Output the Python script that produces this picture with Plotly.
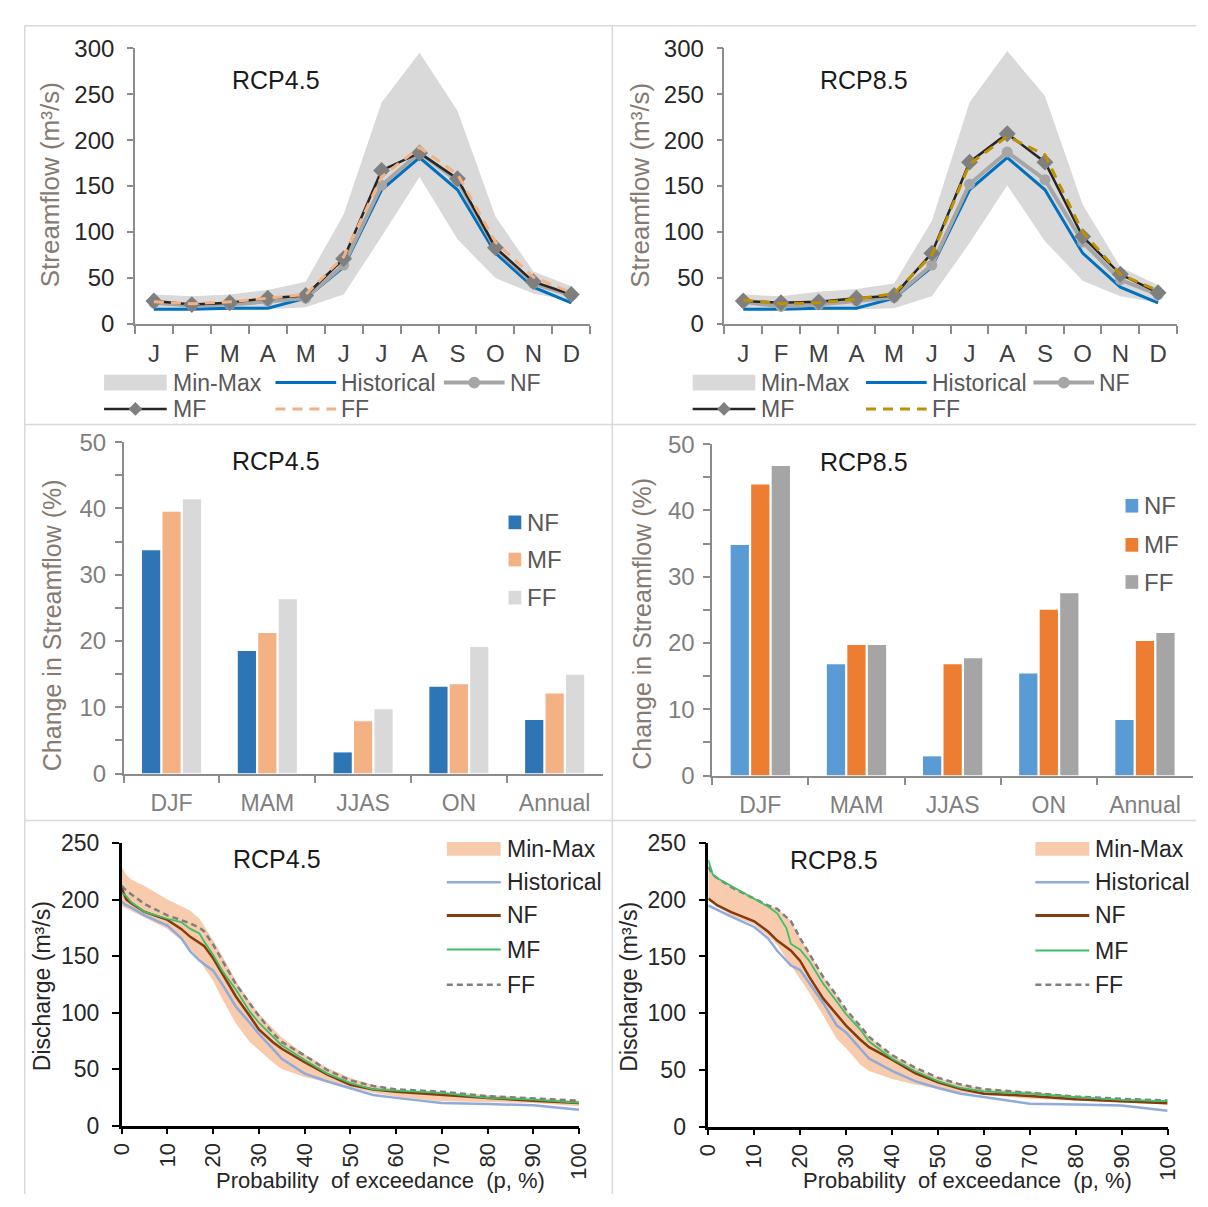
import plotly.graph_objects as go

W, H = 1208, 1207
FONT = "Liberation Sans, Arial, Helvetica, sans-serif"


def PX(x):
    return x / W


def PY(y):
    return 1 - y / H


# ---------------- data ----------------
months = ["J", "F", "M", "A", "M", "J", "J", "A", "S", "O", "N", "D"]
month_idx = list(range(len(months)))

# RCP4.5 monthly streamflow (m3/s)
hist_45 = [16, 16, 17, 17, 28, 62, 146, 181, 146, 77, 40, 23]
nf_45 = [23, 20, 21, 25, 28, 64, 151, 186, 156, 82, 44, 31]
mf_45 = [25, 21, 23, 28, 31, 71, 167, 186, 158, 83, 46, 32]
ff_45 = [24, 22, 24, 28, 32, 73, 160, 192, 163, 89, 51, 34]
min_45 = [15, 15, 16, 16, 18, 32, 95, 160, 92, 50, 33, 25]
max_45 = [32, 30, 32, 37, 46, 119, 241, 295, 232, 117, 57, 41]

# RCP8.5 monthly streamflow (m3/s)
hist_85 = [16, 16, 17, 17, 28, 62, 146, 181, 146, 77, 40, 23]
nf_85 = [24, 19, 21, 25, 29, 64, 152, 187, 157, 89, 48, 32]
mf_85 = [25, 23, 24, 28, 31, 77, 176, 207, 176, 95, 54, 34]
ff_85 = [26, 22, 23, 27, 33, 75, 174, 204, 184, 100, 54, 36]
min_85 = [15, 15, 15, 16, 17, 30, 88, 151, 90, 47, 30, 23]
max_85 = [32, 30, 35, 38, 44, 112, 241, 297, 248, 130, 62, 42]

# seasonal change in streamflow (%)
seasons = ["DJF", "MAM", "JJAS", "ON", "Annual"]
chg45_nf = [33.7, 18.5, 3.2, 13.1, 8.1]
chg45_mf = [39.5, 21.2, 7.9, 13.5, 12.1]
chg45_ff = [41.4, 26.3, 9.7, 19.1, 14.9]
chg85_nf = [34.8, 16.8, 2.9, 15.4, 8.4]
chg85_mf = [43.9, 19.7, 16.8, 25.0, 20.3]
chg85_ff = [46.7, 19.7, 17.7, 27.5, 21.5]

# flow duration curves (probability of exceedance %, discharge m3/s)
p_exc = [0, 1, 2, 5, 10, 13, 15, 17, 18, 20, 22, 25, 28, 30, 33, 35, 40, 45, 50, 55, 60, 70, 80, 90, 100]
fdc45_hist = [198, 195, 193, 186, 177, 166, 154, 146, 143, 137, 125, 105, 91, 81, 68, 59, 46, 39, 33, 27, 24.5, 20, 19, 18, 14]
fdc45_nf = [210, 200, 197, 189, 182, 174, 167, 162, 159, 148, 134, 114, 97, 85, 74, 68, 56, 45, 36, 32, 30, 27, 24.5, 22, 20]
fdc45_mf = [206, 203, 198, 189, 183, 180, 174, 170, 163, 151, 137, 120, 101, 91, 79, 71, 58, 46, 37.5, 32, 31, 29, 24.5, 23, 20]
fdc45_ff = [212, 208, 205, 196, 186, 182, 179, 175, 172, 160, 146, 125, 108, 97, 82, 74, 62, 49, 40, 35, 32, 30, 26, 24, 22]
fdc45_max = [229, 222, 218, 212, 200, 194, 190, 183, 177, 164, 150, 128, 110, 99, 86, 78, 63, 51, 42, 36, 32, 30, 27, 24.5, 22]
fdc45_min = [194, 192, 190, 184, 174, 164, 156, 146, 140, 128, 112, 90, 74, 67, 56, 50, 43, 38, 34, 29, 25.5, 21.5, 21, 20, 17]

fdc85_hist = [195, 193, 191, 185, 176, 166, 155, 146, 142, 138, 126, 109, 89, 83, 69, 60, 49, 40, 34, 29, 26, 20, 19.5, 18.6, 14]
fdc85_nf = [201, 198, 195, 189, 181, 172, 164, 158, 155, 146, 132, 113, 98, 89, 77, 70, 59, 47, 39, 33, 29, 27, 24, 22, 20.6]
fdc85_mf = [235, 222, 219, 212, 201, 194, 188, 175, 161, 156, 146, 126, 110, 99, 86, 75, 60, 49, 40, 34, 31, 29, 26, 23.5, 22.4]
fdc85_ff = [229, 222, 219, 211, 201, 195, 192, 185, 181, 166, 152, 132, 115, 103, 89, 79, 63, 52, 43, 37, 33, 30, 26.4, 24.4, 23]
fdc85_max = [233, 222, 219, 212, 201, 195, 192, 185, 181, 166, 152, 132, 115, 103, 89, 79, 63, 52, 43, 37, 33, 31, 27, 24.4, 23]
fdc85_min = [202, 197, 194, 186, 178, 168, 160, 148, 141, 129, 118, 98, 77, 69, 55, 49, 42, 37, 33, 30, 28, 24.4, 23, 21.5, 19.5]

fig = go.Figure()


# ---------------- monthly panels ----------------
def monthly_panel(xa, ya, hist, nf, mf, ff, mn, mx, ff_color):
    common = dict(xaxis=xa, yaxis=ya, showlegend=False, hoverinfo="skip")
    fig.add_trace(go.Scatter(x=month_idx, y=mn, mode="lines", line=dict(width=0, color="#D9D9D9"), **common))
    fig.add_trace(go.Scatter(x=month_idx, y=mx, mode="lines", line=dict(width=0, color="#D9D9D9"),
                             fill="tonexty", fillcolor="#D9D9D9", **common))
    fig.add_trace(go.Scatter(x=month_idx, y=hist, mode="lines", line=dict(color="#0070C0", width=3), **common))
    fig.add_trace(go.Scatter(x=month_idx, y=nf, mode="lines+markers", line=dict(color="#A6A6A6", width=4),
                             marker=dict(symbol="circle", size=11, color="#A6A6A6"), **common))
    fig.add_trace(go.Scatter(x=month_idx, y=mf, mode="lines+markers", line=dict(color="#262626", width=2.5),
                             marker=dict(symbol="diamond", size=13, color="#7F7F7F"), **common))
    fig.add_trace(go.Scatter(x=month_idx, y=ff, mode="lines", line=dict(color=ff_color, width=3, dash="10px,7px"),
                             **common))


monthly_panel("x", "y", hist_45, nf_45, mf_45, ff_45, min_45, max_45, "#F4B183")
monthly_panel("x2", "y2", hist_85, nf_85, mf_85, ff_85, min_85, max_85, "#BF9000")


# ---------------- bar panels ----------------
def bar_panel(xa, ya, nf, mf, ff, colors):
    for vals, c in zip([nf, mf, ff], colors):
        fig.add_trace(go.Bar(x=seasons, y=vals, marker=dict(color=c, line=dict(width=0)),
                             xaxis=xa, yaxis=ya, showlegend=False, hoverinfo="skip"))


bar_panel("x3", "y3", chg45_nf, chg45_mf, chg45_ff, ["#2E75B6", "#F4B183", "#D9D9D9"])
bar_panel("x4", "y4", chg85_nf, chg85_mf, chg85_ff, ["#5B9BD5", "#ED7D31", "#A5A5A5"])


# ---------------- flow duration panels ----------------
def fdc_panel(xa, ya, hist, nf, mf, ff, mn, mx):
    common = dict(xaxis=xa, yaxis=ya, showlegend=False, hoverinfo="skip")
    fig.add_trace(go.Scatter(x=p_exc, y=mn, mode="lines", line=dict(width=0, color="#F8CBAD"), **common))
    fig.add_trace(go.Scatter(x=p_exc, y=mx, mode="lines", line=dict(width=0, color="#F8CBAD"),
                             fill="tonexty", fillcolor="#F8CBAD", **common))
    fig.add_trace(go.Scatter(x=p_exc, y=hist, mode="lines", line=dict(color="#8FAADC", width=2.5), **common))
    fig.add_trace(go.Scatter(x=p_exc, y=ff, mode="lines", line=dict(color="#7F7F7F", width=2.5, dash="6px,4px"),
                             **common))
    fig.add_trace(go.Scatter(x=p_exc, y=nf, mode="lines", line=dict(color="#843C0C", width=2.5), **common))
    fig.add_trace(go.Scatter(x=p_exc, y=mf, mode="lines", line=dict(color="#3CBF6A", width=1.8), **common))


fdc_panel("x5", "y5", fdc45_hist, fdc45_nf, fdc45_mf, fdc45_ff, fdc45_min, fdc45_max)
fdc_panel("x6", "y6", fdc85_hist, fdc85_nf, fdc85_mf, fdc85_ff, fdc85_min, fdc85_max)

# ---------------- axes ----------------
GRAY_AX = "#8C8C8C"


def top_x(x0, x1):
    return dict(domain=[PX(x0), PX(x1)], range=[-0.5, len(months) - 0.5], tickmode="array",
                tickvals=month_idx, ticktext=months, ticks="", showgrid=False, zeroline=False,
                showline=True, linecolor=GRAY_AX, linewidth=1.5,
                tickfont=dict(family=FONT, size=24, color="#404040"), ticklabelstandoff=8,
                minor=dict(tickmode="linear", tick0=-0.5, dtick=1, ticks="outside", ticklen=8,
                           tickwidth=1.5, tickcolor=GRAY_AX, showgrid=False))


def top_y(y0, y1, anchor):
    return dict(domain=[PY(y0), PY(y1)], range=[0, 300], dtick=50, ticks="outside", ticklen=6,
                tickwidth=1.5, tickcolor=GRAY_AX, showline=True, linecolor=GRAY_AX, linewidth=1.5,
                showgrid=False, zeroline=False, anchor=anchor,
                tickfont=dict(family=FONT, size=24, color="#262626"), ticklabelstandoff=8)


def mid_x(x0, x1):
    return dict(domain=[PX(x0), PX(x1)], type="category", tickson="boundaries", ticks="outside",
                ticklen=8, tickwidth=1.5, tickcolor=GRAY_AX, showline=True, linecolor=GRAY_AX,
                linewidth=1.5, showgrid=False, zeroline=False,
                tickfont=dict(family=FONT, size=23, color="#7F7F7F"), ticklabelstandoff=8)


def mid_y(y0, y1, anchor):
    return dict(domain=[PY(y0), PY(y1)], range=[0, 50], dtick=10, ticks="outside", ticklen=7,
                tickwidth=1.5, tickcolor=GRAY_AX, showline=True, linecolor=GRAY_AX, linewidth=1.5,
                showgrid=False, zeroline=False, anchor=anchor,
                minor=dict(dtick=5, ticks="outside", ticklen=7, tickwidth=1.5, tickcolor=GRAY_AX),
                tickfont=dict(family=FONT, size=24, color="#7F7F7F"), ticklabelstandoff=4)


def bot_x(x0, x1):
    return dict(domain=[PX(x0), PX(x1)], range=[0, 100], dtick=10, tickangle=-90, ticks="outside",
                ticklen=6, tickwidth=2, tickcolor="#000000", showline=True, linecolor="#000000",
                linewidth=2.5, showgrid=False, zeroline=False,
                tickfont=dict(family=FONT, size=22, color="#262626"), ticklabelstandoff=0)


def bot_y(y0, y1, anchor):
    return dict(domain=[PY(y0), PY(y1)], range=[0, 250], dtick=50, ticks="outside", ticklen=7,
                tickwidth=2, tickcolor="#000000", showline=True, linecolor="#000000", linewidth=2.5,
                showgrid=False, zeroline=False, anchor=anchor,
                tickfont=dict(family=FONT, size=23, color="#262626"), ticklabelstandoff=8)


layout_axes = dict(
    xaxis=dict(top_x(124.5, 589.5), anchor="y"),
    yaxis=top_y(317, 35, "x"),
    xaxis2=dict(top_x(726.5, 1188.5), anchor="y2"),
    yaxis2=top_y(317, 35, "x2"),
    xaxis3=dict(mid_x(113, 602), anchor="y3"),
    yaxis3=mid_y(777, 438, "x3"),
    xaxis4=dict(mid_x(714, 1205), anchor="y4"),
    yaxis4=mid_y(779, 440, "x4"),
    xaxis5=dict(bot_x(111, 578), anchor="y5"),
    yaxis5=bot_y(1137, 848, "x5"),
    xaxis6=dict(bot_x(710, 1179), anchor="y6"),
    yaxis6=bot_y(1138, 848, "x6"),
)

# ---------------- decorations: titles, legends, borders ----------------
shapes = []
annotations = []


def txt(x, y, s, size, color="#262626", xanchor="center", angle=0):
    annotations.append(dict(x=PX(x), y=PY(y), xref="paper", yref="paper", text=s, showarrow=False,
                            xanchor=xanchor, yanchor="middle", textangle=angle,
                            font=dict(family=FONT, size=size, color=color)))


def rect(x0, y0, x1, y1, color):
    shapes.append(dict(type="rect", xref="paper", yref="paper", x0=PX(x0), x1=PX(x1), y0=PY(y1), y1=PY(y0),
                       fillcolor=color, line=dict(width=0), layer="above"))


def hline(x0, x1, y, color, width, dash="solid"):
    shapes.append(dict(type="line", xref="paper", yref="paper", x0=PX(x0), x1=PX(x1), y0=PY(y), y1=PY(y),
                       line=dict(color=color, width=width, dash=dash), layer="above"))


def vline(x, y0, y1, color, width):
    shapes.append(dict(type="line", xref="paper", yref="paper", x0=PX(x), x1=PX(x), y0=PY(y0), y1=PY(y1),
                       line=dict(color=color, width=width), layer="below"))


def circle(cx, cy, r, color):
    shapes.append(dict(type="circle", xref="paper", yref="paper", x0=PX(cx - r), x1=PX(cx + r),
                       y0=PY(cy + r), y1=PY(cy - r), fillcolor=color, line=dict(width=0), layer="above"))


def diamond(cx, cy, r, color):
    path = "M {} {} L {} {} L {} {} L {} {} Z".format(PX(cx - r), PY(cy), PX(cx), PY(cy - r),
                                                      PX(cx + r), PY(cy), PX(cx), PY(cy + r))
    shapes.append(dict(type="path", xref="paper", yref="paper", path=path, fillcolor=color,
                       line=dict(width=0), layer="above"))


# panel borders
BORDER = "#D9D9D9"
hline(12, 1208, 12, BORDER, 1.5)
hline(12, 1208, 420, BORDER, 1.5)
hline(12, 1208, 825, BORDER, 1.5)
vline(12, 12, 1207, BORDER, 1.5)
vline(612, 12, 1207, BORDER, 1.5)

# panel titles
for (x, y, s) in [(269, 68, "RCP4.5"), (869, 68, "RCP8.5"), (269, 457, "RCP4.5"), (869, 458, "RCP8.5"),
                  (270, 864, "RCP4.5"), (838, 865, "RCP8.5")]:
    txt(x, y, s, 25, "#1A1A1A")

# axis titles
YT = "#857B72"
txt(38, 175, "Streamflow (m³/s)", 26, YT, angle=-90)
txt(640, 175, "Streamflow (m³/s)", 26, YT, angle=-90)
txt(40, 625, "Change in Streamflow (%)", 25, YT, angle=-90)
txt(642, 624, "Change in Streamflow (%)", 25, YT, angle=-90)
txt(29, 994, "Discharge (m³/s)", 23, "#262626", angle=-90)
txt(629, 995, "Discharge (m³/s)", 23, "#262626", angle=-90)
txt(375, 1193, "Probability  of exceedance  (p, %)", 22, "#262626")
txt(975, 1193, "Probability  of exceedance  (p, %)", 22, "#262626")

# top legends
LT = "#595959"


def top_legend(x0, c2, c3, ff_color):
    r1, r2 = 377, 404
    rect(x0, r1 - 8, x0 + 64, r1 + 8, "#D9D9D9")
    txt(x0 + 68, r1, "Min-Max", 23, LT, "left")
    hline(c2, c2 + 62, r1, "#0070C0", 3)
    txt(c2 + 65, r1, "Historical", 23, LT, "left")
    hline(c3, c3 + 62, r1, "#A6A6A6", 4)
    circle(c3 + 31, r1, 6, "#A6A6A6")
    txt(c3 + 65, r1, "NF", 23, LT, "left")
    hline(x0, x0 + 64, r2, "#262626", 2.5)
    diamond(x0 + 32, r2, 7, "#7F7F7F")
    txt(x0 + 68, r2, "MF", 23, LT, "left")
    hline(c2, c2 + 62, r2, ff_color, 3, "10px,7px")
    txt(c2 + 65, r2, "FF", 23, LT, "left")


top_legend(93, 268, 440, "#F4B183")
top_legend(694, 871, 1042, "#BF9000")


# bar legends
def bar_legend(x0, ys, colors):
    for y, c, s in zip(ys, colors, ["NF", "MF", "FF"]):
        rect(x0, y - 7, x0 + 13, y + 7, c)
        txt(x0 + 17, y, s, 24, LT, "left")


bar_legend(506, [520, 558, 597], ["#2E75B6", "#F4B183", "#D9D9D9"])
bar_legend(1136, [503, 543, 581], ["#5B9BD5", "#ED7D31", "#A5A5A5"])


# flow duration legends
def fdc_legend(x0, ys):
    rect(x0, ys[0] - 7, x0 + 55, ys[0] + 7, "#F8CBAD")
    hline(x0, x0 + 55, ys[1], "#8FAADC", 2.5)
    hline(x0, x0 + 55, ys[2], "#843C0C", 3)
    hline(x0, x0 + 55, ys[3], "#3CBF6A", 2)
    hline(x0, x0 + 55, ys[4], "#7F7F7F", 2.5, "6px,4px")
    for y, s in zip(ys, ["Min-Max", "Historical", "NF", "MF", "FF"]):
        txt(x0 + 59, y, s, 23, "#262626", "left")


fdc_legend(443, [854, 888, 922, 957, 993])
fdc_legend(1044, [854, 888, 922, 958, 993])

fig.update_layout(
    width=W, height=H, autosize=False,
    margin=dict(l=0, r=0, t=0, b=0, pad=0),
    paper_bgcolor="white", plot_bgcolor="white",
    barmode="group", bargap=0.36, bargroupgap=0.11,
    showlegend=False,
    font=dict(family=FONT, color="#262626"),
    shapes=shapes, annotations=annotations,
    **layout_axes,
)

fig.write_html("out.html")
